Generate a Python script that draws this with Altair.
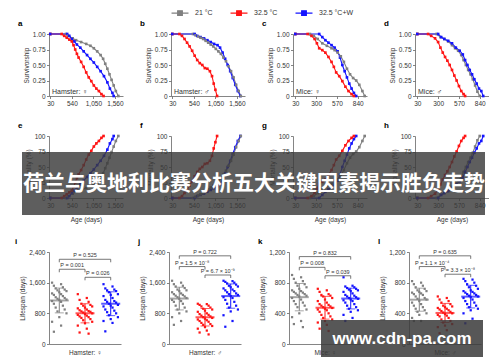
import altair as alt
import pandas as pd

GROUPS = ["21 °C", "32.5 °C", "32.5 °C+W"]
COLORS = ["#808080", "#ff1414", "#1414ff"]

# ---------- survival curves (days, survivorship) ----------
A_GRAY_DAY = [30, 400, 450, 560, 640, 760, 880, 980, 1060, 1140, 1220, 1280, 1330, 1380, 1430, 1480, 1530, 1580, 1640]
A_GRAY_SURV = [1, 1, 0.97, 0.93, 0.9, 0.87, 0.84, 0.81, 0.77, 0.72, 0.66, 0.6, 0.52, 0.44, 0.35, 0.26, 0.17, 0.08, 0]
A_RED_DAY = [30, 300, 360, 420, 480, 540, 580, 620, 660, 700, 760, 820, 880, 940, 1000, 1060, 1120, 1180, 1240, 1290]
A_RED_SURV = [1, 1, 0.97, 0.94, 0.91, 0.88, 0.82, 0.75, 0.68, 0.62, 0.55, 0.47, 0.38, 0.3, 0.24, 0.17, 0.12, 0.08, 0.03, 0]
A_BLUE_DAY = [30, 430, 480, 540, 600, 660, 740, 820, 900, 980, 1060, 1140, 1220, 1300, 1380, 1440, 1500, 1530]
A_BLUE_SURV = [1, 1, 0.97, 0.92, 0.88, 0.83, 0.78, 0.72, 0.66, 0.6, 0.54, 0.47, 0.4, 0.32, 0.22, 0.12, 0.05, 0]

B_GRAY_DAY = [30, 520, 580, 640, 700, 760, 820, 880, 940, 1000, 1060, 1120, 1180, 1240, 1300, 1360, 1420, 1480, 1540, 1600, 1650]
B_GRAY_SURV = [1, 1, 0.98, 0.96, 0.94, 0.92, 0.89, 0.86, 0.83, 0.8, 0.76, 0.72, 0.68, 0.62, 0.56, 0.48, 0.4, 0.3, 0.18, 0.08, 0]
B_RED_DAY = [30, 200, 260, 320, 380, 440, 500, 560, 620, 680, 740, 800, 860, 920, 970, 1010, 1050, 1090]
B_RED_SURV = [1, 1, 0.97, 0.92, 0.86, 0.8, 0.73, 0.65, 0.58, 0.53, 0.5, 0.45, 0.44, 0.4, 0.32, 0.2, 0.1, 0]
B_BLUE_DAY = [30, 560, 620, 700, 780, 860, 940, 1020, 1100, 1160, 1220, 1280, 1340, 1400, 1460, 1520, 1580, 1640]
B_BLUE_SURV = [1, 1, 0.97, 0.95, 0.93, 0.9, 0.87, 0.84, 0.82, 0.78, 0.7, 0.6, 0.5, 0.4, 0.29, 0.18, 0.08, 0]

C_GRAY_DAY = [30, 220, 270, 320, 380, 440, 500, 540, 580, 620, 660, 700, 740, 780, 820, 860, 900, 930]
C_GRAY_SURV = [1, 1, 0.97, 0.92, 0.85, 0.81, 0.77, 0.74, 0.7, 0.64, 0.55, 0.44, 0.35, 0.29, 0.25, 0.18, 0.08, 0]
C_RED_DAY = [30, 190, 240, 280, 310, 340, 380, 420, 460, 500, 530, 560, 600, 640, 680, 720, 760, 790]
C_RED_SURV = [1, 1, 0.97, 0.92, 0.85, 0.77, 0.74, 0.7, 0.63, 0.55, 0.47, 0.38, 0.32, 0.24, 0.15, 0.08, 0.03, 0]
C_BLUE_DAY = [30, 340, 380, 420, 460, 500, 540, 580, 610, 640, 670, 700, 730, 760, 790, 820]
C_BLUE_SURV = [1, 1, 0.95, 0.9, 0.86, 0.82, 0.78, 0.72, 0.62, 0.5, 0.4, 0.3, 0.2, 0.12, 0.05, 0]

D_GRAY_DAY = [30, 280, 330, 380, 430, 480, 520, 560, 600, 630, 660, 690, 720, 750, 780, 810, 840]
D_GRAY_SURV = [1, 1, 0.95, 0.92, 0.88, 0.82, 0.77, 0.73, 0.66, 0.58, 0.5, 0.42, 0.35, 0.27, 0.17, 0.07, 0]
D_RED_DAY = [30, 170, 210, 260, 300, 330, 360, 390, 420, 450, 480, 510, 540, 570, 600, 630, 650]
D_RED_SURV = [1, 1, 0.97, 0.93, 0.87, 0.78, 0.7, 0.63, 0.57, 0.5, 0.42, 0.33, 0.25, 0.16, 0.08, 0.03, 0]
D_BLUE_DAY = [30, 300, 340, 380, 430, 480, 530, 580, 620, 650, 680, 710, 740, 770, 800, 830, 860, 885]
D_BLUE_SURV = [1, 1, 0.95, 0.92, 0.89, 0.85, 0.78, 0.73, 0.67, 0.58, 0.5, 0.42, 0.35, 0.27, 0.2, 0.12, 0.08, 0]

# ---------- individual lifespans (days) ----------
I_GRAY = [1600, 1560, 1520, 1480, 1450, 1420, 1400, 1380, 1350, 1320, 1300, 1280, 1250, 1220, 1200, 1180, 1160, 1150, 1120, 1100, 1050, 1000, 950, 900, 850, 800, 700, 580, 480, 320]
I_RED = [1300, 1200, 1150, 1100, 1050, 1020, 1000, 980, 950, 930, 900, 880, 860, 850, 840, 820, 800, 780, 760, 740, 720, 700, 680, 650, 620, 580, 540, 480, 400, 300, 270]
I_BLUE = [1560, 1500, 1450, 1420, 1400, 1380, 1350, 1300, 1280, 1250, 1200, 1150, 1120, 1100, 1080, 1050, 1020, 1000, 980, 950, 900, 870, 830, 800, 750, 700, 650, 600, 550, 330]
J_GRAY = [1650, 1600, 1560, 1520, 1500, 1460, 1420, 1400, 1380, 1350, 1320, 1300, 1280, 1260, 1240, 1220, 1200, 1180, 1150, 1120, 1100, 1050, 1000, 950, 900, 850, 800, 700, 600, 500]
J_RED = [1050, 1040, 1020, 1000, 980, 950, 920, 900, 870, 840, 800, 780, 760, 740, 720, 700, 680, 660, 640, 620, 600, 580, 550, 520, 500, 470, 440, 400, 350, 300, 250]
J_BLUE = [1650, 1640, 1620, 1600, 1580, 1550, 1520, 1500, 1480, 1450, 1420, 1400, 1380, 1350, 1320, 1300, 1280, 1250, 1220, 1200, 1150, 1100, 1050, 1000, 950, 900, 850, 750, 600, 450]
K_GRAY = [900, 870, 850, 820, 800, 780, 760, 740, 720, 700, 690, 680, 670, 660, 650, 640, 630, 620, 600, 580, 560, 540, 520, 500, 480, 450, 400, 350, 300, 260, 220]
K_RED = [720, 700, 680, 650, 640, 630, 620, 600, 580, 560, 540, 520, 510, 500, 490, 480, 470, 460, 450, 440, 420, 400, 380, 360, 340, 320, 300, 280, 250, 200, 170]
K_BLUE = [870, 760, 750, 740, 730, 720, 710, 700, 690, 680, 660, 640, 630, 620, 610, 600, 590, 580, 570, 560, 540, 520, 500, 480, 460, 440, 420, 380, 340, 300]
L_GRAY = [820, 800, 780, 760, 740, 720, 700, 690, 680, 670, 660, 650, 640, 620, 600, 590, 580, 560, 540, 520, 500, 480, 460, 440, 420, 400, 380, 340, 300, 300]
L_RED = [620, 600, 580, 560, 540, 520, 500, 490, 480, 470, 460, 450, 440, 430, 420, 410, 400, 390, 380, 370, 360, 340, 320, 300, 280, 260, 240, 220, 180, 140]
L_BLUE = [850, 840, 820, 800, 780, 760, 740, 720, 700, 690, 680, 670, 660, 650, 640, 630, 620, 610, 600, 580, 560, 540, 520, 500, 480, 460, 440, 400, 330, 270]

# ---------- P-value annotations: (group from, group to, bracket level, text) ----------
I_P = [(0, 2, 2210, "P = 0.525"), (0, 1, 1950, "P = 0.001"), (1, 2, 1740, "P = 0.026")]
J_P = [(0, 2, 2300, "P = 0.722"), (0, 1, 2020, "P = 1.5 × 10⁻⁸"), (1, 2, 1800, "P = 6.7 × 10⁻⁹")]
K_P = [(0, 2, 1140, "P = 0.832"), (0, 1, 1000, "P = 0.008"), (1, 2, 890, "P = 0.039")]
L_P = [(0, 2, 1150, "P = 0.635"), (0, 1, 1010, "P = 1.1 × 10⁻⁴"), (1, 2, 910, "P = 3.3 × 10⁻⁸")]

BANNER = "荷兰与奥地利比赛分析五大关键因素揭示胜负走势"
WATERMARK = "www.cdn-pa.com"

# ---------- tables ----------
SURV = {
    "a": [(A_GRAY_DAY, A_GRAY_SURV), (A_RED_DAY, A_RED_SURV), (A_BLUE_DAY, A_BLUE_SURV)],
    "b": [(B_GRAY_DAY, B_GRAY_SURV), (B_RED_DAY, B_RED_SURV), (B_BLUE_DAY, B_BLUE_SURV)],
    "c": [(C_GRAY_DAY, C_GRAY_SURV), (C_RED_DAY, C_RED_SURV), (C_BLUE_DAY, C_BLUE_SURV)],
    "d": [(D_GRAY_DAY, D_GRAY_SURV), (D_RED_DAY, D_RED_SURV), (D_BLUE_DAY, D_BLUE_SURV)],
}
rows = []
for panel, series in SURV.items():
    for gi, (days, surv) in enumerate(series):
        for k, (d, s) in enumerate(zip(days, surv)):
            rows.append(dict(panel=panel, group=GROUPS[gi], gi=gi, k=k, day=d,
                             surv=s, mort=round(100 * (1 - s), 2)))
surv_df = pd.DataFrame(rows)

DOTS = {"i": [I_GRAY, I_RED, I_BLUE], "j": [J_GRAY, J_RED, J_BLUE],
        "k": [K_GRAY, K_RED, K_BLUE], "l": [L_GRAY, L_RED, L_BLUE]}
PV = {"i": I_P, "j": J_P, "k": K_P, "l": L_P}

COLOR_SCALE = alt.Scale(domain=GROUPS, range=COLORS)
LEG = alt.Legend(orient="none", legendX=126, legendY=-26, direction="horizontal",
                 title=None, symbolType="M-2,0H2M-0.55,-0.55H0.55V0.55H-0.55Z",
                 symbolSize=72, symbolStrokeWidth=1.2, labelFontSize=7,
                 labelColor="#333", columnPadding=15, labelOffset=10)


def color_enc():
    return alt.Color("group:N", scale=COLOR_SCALE, legend=LEG)


def letter_title(t, dx=-31):
    return alt.TitleParams(text=t, anchor="start", frame="group", fontSize=8,
                           fontWeight="bold", offset=3, color="#000", dx=dx)


def surv_panel(key, letter, label, domain, ticks, mortality=False, overlay=None):
    d = surv_df[surv_df.panel == key]
    if mortality:
        y = alt.Y("mort:Q", scale=alt.Scale(domain=[0, 100]),
                  axis=alt.Axis(values=[0, 25, 50, 75, 100], format="d", title="Mortality (%)"))
        xax = alt.Axis(values=ticks, format=",d", title="Age (days)", titlePadding=8)
    else:
        y = alt.Y("surv:Q", scale=alt.Scale(domain=[0, 1]),
                  axis=alt.Axis(values=[0, 0.25, 0.5, 0.75, 1],
                                labelExpr="datum.value == 0 ? '0' : format(datum.value, '.2f')",
                                title="Survivorship"))
        xax = alt.Axis(values=ticks, format=",d", title=None)
    x = alt.X("day:Q", scale=alt.Scale(domain=domain, nice=False, zero=False), axis=xax)
    base = alt.Chart(d).encode(x=x, y=y, color=color_enc(), detail="group:N", order="k:Q")
    layers = [base.mark_line(strokeWidth=1.1),
              base.mark_square(size=7, opacity=1)]
    if not mortality:
        layers.append(alt.Chart(pd.DataFrame({"t": [label]})).mark_text(
            align="left", baseline="bottom", fontSize=7, color="#333").encode(
            x=alt.value(3), y=alt.value(61), text="t:N"))
    if overlay is not None:
        layers += overlay
    return alt.layer(*layers).properties(width=74, height=62, title=letter_title(letter))


def dot_panel(key, letter, label, ymax, yticks, overlay=None, dx=-31):
    rows = []
    for gi, vals in enumerate(DOTS[key]):
        for k, v in enumerate(vals):
            rows.append(dict(group=GROUPS[gi], gi=gi, k=k, v=v))
    d = pd.DataFrame(rows)
    prow = [dict(g1=a, g2=b, lvl=lv, txt=t) for a, b, lv, t in PV[key]]
    pdf = pd.DataFrame(prow)
    xs = alt.Scale(domain=[-0.4, 2.4], nice=False, zero=False)
    ys = alt.Scale(domain=[0, ymax], nice=False)
    xax = alt.Axis(ticks=False, labels=False, title=label, grid=False, titlePadding=5)
    yax = alt.Axis(values=yticks, format=",d", title="Lifespan (days)")

    def X(f):
        return alt.X(f, scale=xs, axis=xax, title=label)

    def Y(f):
        return alt.Y(f, scale=ys, axis=yax, title="Lifespan (days)")

    pts = alt.Chart(d).transform_calculate(
        xpos="datum.gi + ((((datum.k * 5) % 9) - 4) * 0.07)"
    ).mark_square(size=5, opacity=1).encode(x=X("xpos:Q"), y=Y("v:Q"), color=color_enc())
    stats = alt.Chart(d).transform_aggregate(
        m="mean(v)", s="stdev(v)", groupby=["gi", "group"]
    ).transform_calculate(lo="datum.m - datum.s", hi="datum.m + datum.s")
    err = stats.mark_rule(strokeWidth=1).encode(x=X("gi:Q"), y=Y("lo:Q"), y2="hi:Q", color=color_enc())
    mean = stats.mark_tick(orient="horizontal", size=19, thickness=2).encode(
        x=X("gi:Q"), y=Y("m:Q"), color=color_enc())
    caph = stats.mark_tick(orient="horizontal", size=9, thickness=1).encode(
        x=X("gi:Q"), y=Y("hi:Q"), color=color_enc())
    capl = stats.mark_tick(orient="horizontal", size=9, thickness=1).encode(
        x=X("gi:Q"), y=Y("lo:Q"), color=color_enc())
    pb = alt.Chart(pdf)
    hbar = pb.mark_rule(color="#555", strokeWidth=0.8).encode(x=X("g1:Q"), x2="g2:Q", y=Y("lvl:Q"))
    t1 = pb.mark_rule(color="#555", strokeWidth=0.8, y2Offset=3).encode(x=X("g1:Q"), y=Y("lvl:Q"), y2="lvl:Q")
    t2 = pb.mark_rule(color="#555", strokeWidth=0.8, y2Offset=3).encode(x=X("g2:Q"), y=Y("lvl:Q"), y2="lvl:Q")
    txt = pb.transform_calculate(mid="(datum.g1 + datum.g2) / 2").mark_text(
        fontSize=5.5, dy=-4, color="#333").encode(x=X("mid:Q"), y=Y("lvl:Q"), text="txt:N")
    layers = [pts, err, mean, caph, capl, hbar, t1, t2, txt]
    if overlay is not None:
        layers += overlay
    return alt.layer(*layers).properties(width=72, height=92, title=letter_title(letter, dx))


HD = [0, 1750]
HT = [30, 540, 1050, 1560]
MD = [0, 960]
MT = [30, 300, 570, 840]

banner_df = pd.DataFrame({"t": [BANNER]})
banner = [
    alt.Chart(banner_df).mark_rect(color="#3a3a3a", opacity=0.82).encode(
        x=alt.value(-393), x2=alt.value(70), y=alt.value(16), y2=alt.value(79)),
    alt.Chart(banner_df).mark_text(fontSize=21, fontWeight="bold", color="white",
                                   font="Noto Sans CJK SC", baseline="middle").encode(
        x=alt.value(-161), y=alt.value(48), text="t:N"),
]
wm_df = pd.DataFrame({"t": [WATERMARK]})
watermark = [
    alt.Chart(wm_df).mark_rect(color="#3a3a3a", opacity=0.85).encode(
        x=alt.value(-88), x2=alt.value(74), y=alt.value(68), y2=alt.value(105)),
    alt.Chart(wm_df).mark_text(fontSize=17, fontWeight="bold", color="white",
                               font="Liberation Sans", baseline="middle").encode(
        x=alt.value(-7), y=alt.value(87), text="t:N"),
]

row1 = alt.hconcat(
    surv_panel("a", "a", "Hamster: ♀", HD, HT),
    surv_panel("b", "b", "Hamster: ♂", HD, HT),
    surv_panel("c", "c", "Mice: ♀", MD, MT),
    surv_panel("d", "d", "Mice: ♂", MD, MT),
    spacing=48, bounds="flush")
row2 = alt.hconcat(
    surv_panel("a", "e", "", HD, HT, mortality=True),
    surv_panel("b", "f", "", HD, HT, mortality=True),
    surv_panel("c", "g", "", MD, MT, mortality=True),
    surv_panel("d", "h", "", MD, MT, mortality=True, overlay=banner),
    spacing=48, bounds="flush")
row3 = alt.hconcat(
    dot_panel("i", "i", "Hamster: ♀", 2400, [0, 800, 1600, 2400], dx=-34),
    dot_panel("j", "j", "Hamster: ♂", 2400, [0, 800, 1600, 2400]),
    dot_panel("k", "k", "Mice: ♀", 1200, [0, 400, 800, 1200]),
    dot_panel("l", "l", "Mice: ♂", 1200, [0, 400, 800, 1200], overlay=watermark),
    spacing=48, bounds="flush")

chart = alt.vconcat(row1, row2, row3, spacing=15).properties(
    padding={"left": 7, "top": 0, "right": 0, "bottom": 0}
).configure(font="Liberation Sans").configure_view(stroke=None).configure_axis(
    grid=False, labelFontSize=6.5, titleFontSize=6.5, titleFontWeight="normal",
    labelColor="#333", titleColor="#333", domainColor="#666", tickColor="#666",
    tickSize=2.5, labelPadding=1.5, titlePadding=3, domainWidth=0.8, tickWidth=0.8
)

chart.save("out.html", embed_options={"renderer": "svg", "actions": False})
